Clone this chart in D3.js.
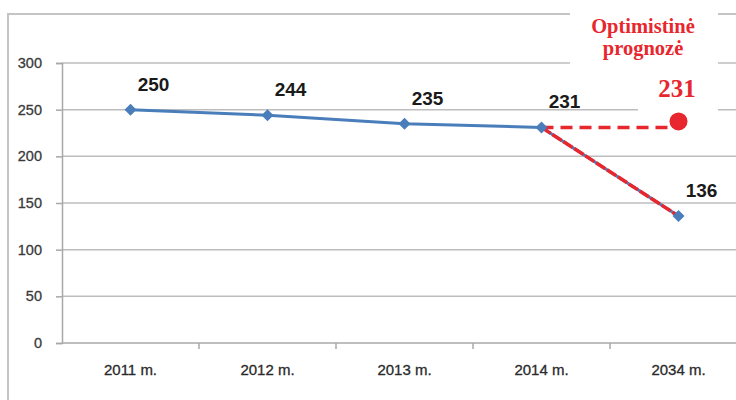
<!DOCTYPE html>
<html>
<head>
<meta charset="utf-8">
<script src="https://cdn.jsdelivr.net/npm/d3@7"></script>
<style>
  html, body { margin: 0; padding: 0; background: #fff; }
  svg { display: block; }
</style>
</head>
<body>
<svg id="chart" width="736" height="400"></svg>
<script>
// Population series (thousands) with the pessimistic 2034 value
const categories = ["2011 m.", "2012 m.", "2013 m.", "2014 m.", "2034 m."];
const values = [250, 244, 235, 231, 136];
// Optimistic forecast: stays at the 2014 level
const optimisticCategories = ["2014 m.", "2034 m."];
const optimisticValues = [231, 231];
const yTicks = [0, 50, 100, 150, 200, 250, 300];
const noteTitle = ["Optimistinė", "prognozė"];

const svg = d3.select("#chart");
const W = 736, H = 400;
const margin = { left: 62, top: 63, bottom: 57 };
const bandW = 137;
const sans = "Liberation Sans, Arial, sans-serif";

const x = d3.scaleBand()
  .domain(categories)
  .range([margin.left, margin.left + bandW * categories.length])
  .paddingInner(0).paddingOuter(0);
const y = d3.scaleLinear().domain([0, 300]).range([H - margin.bottom, margin.top]);
const cx = c => x(c) + x.bandwidth() / 2;

// outer frame (left and top edges)
svg.append("path")
  .attr("d", `M8,${H} V14 H${W}`)
  .attr("fill", "none").attr("stroke", "#c4c4c4").attr("stroke-width", 2);

// horizontal gridlines
svg.append("g").selectAll("line").data(yTicks.filter(t => t > 0)).join("line")
  .attr("x1", margin.left).attr("x2", W)
  .attr("y1", d => y(d)).attr("y2", d => y(d))
  .attr("stroke", "#bdbdbd").attr("stroke-width", 1.5);

// white backing for the forecast note (covers frame and gridlines)
svg.append("path")
  .attr("d", "M570,0 H718 V111 H638 V72 H570 Z")
  .attr("fill", "#fff");

// y axis
const yAxis = svg.append("g")
  .attr("transform", `translate(${margin.left},0)`)
  .call(d3.axisLeft(y).tickValues(yTicks).tickSize(6).tickPadding(14));
yAxis.select(".domain").attr("stroke", "#a8a8a8").attr("stroke-width", 1.5);
yAxis.selectAll(".tick line").attr("stroke", "#a8a8a8").attr("stroke-width", 1.5);
yAxis.selectAll(".tick text")
  .attr("font-family", sans).attr("font-size", 14.5).attr("fill", "#3a3a3a")
  .attr("stroke", "#3a3a3a").attr("stroke-width", 0.3);

// x axis
const xAxis = svg.append("g")
  .attr("transform", `translate(0,${y(0)})`)
  .call(d3.axisBottom(x).tickSize(0).tickPadding(21));
xAxis.select(".domain").attr("d", `M${margin.left},0H${W}`)
  .attr("stroke", "#a8a8a8").attr("stroke-width", 1.5);
xAxis.selectAll(".tick text")
  .attr("font-family", sans).attr("font-size", 15).attr("fill", "#2a2a2a")
  .attr("stroke", "#2a2a2a").attr("stroke-width", 0.3);
// tick marks between categories
svg.append("g").selectAll("line").data(categories.slice(1)).join("line")
  .attr("x1", d => x(d)).attr("x2", d => x(d))
  .attr("y1", y(0)).attr("y2", y(0) + 6)
  .attr("stroke", "#a8a8a8").attr("stroke-width", 1.5);

// main blue series
const line = d3.line().x((d, i) => cx(categories[i])).y(d => y(d));
svg.append("path").datum(values)
  .attr("d", line)
  .attr("fill", "none").attr("stroke", "#4a7ebb").attr("stroke-width", 3);

// pessimistic segment overlaid in red
const segData = values.slice(3);
const segCats = categories.slice(3);
svg.append("path").datum(segData)
  .attr("d", d3.line().x((d, i) => cx(segCats[i])).y(d => y(d)))
  .attr("fill", "none").attr("stroke", "#e8262e").attr("stroke-width", 3.5)
  .attr("stroke-dasharray", "11,2");

// optimistic dashed line
svg.append("path").datum(optimisticValues)
  .attr("d", d3.line().x((d, i) => cx(optimisticCategories[i])).y(d => y(d)))
  .attr("fill", "none").attr("stroke", "#e8262e").attr("stroke-width", 3.5)
  .attr("stroke-dasharray", "12,7");

// diamond markers (squares turned 45°)
const diamond = d3.symbol().type(d3.symbolSquare).size(72);
svg.append("g").selectAll("path").data(values).join("path")
  .attr("transform", (d, i) => `translate(${cx(categories[i])},${y(d)}) rotate(45)`)
  .attr("d", diamond)
  .attr("fill", "#4a7ebb");

// data labels
svg.append("g").selectAll("text").data(values).join("text")
  .attr("x", (d, i) => cx(categories[i]) + 23)
  .attr("y", d => y(d) - 19)
  .attr("text-anchor", "middle")
  .attr("font-family", sans)
  .attr("font-weight", "bold").attr("font-size", 19).attr("fill", "#1a1a1a")
  .text(d => d);

// forecast note text
const note = svg.append("g")
  .attr("font-family", "Liberation Serif, Times New Roman, serif")
  .attr("font-weight", "bold").attr("fill", "#e8262e");
note.selectAll("text.title").data(noteTitle).join("text")
  .attr("class", "title")
  .attr("x", 643).attr("y", (d, i) => 33 + i * 22)
  .attr("text-anchor", "middle").attr("font-size", 20.5)
  .text(d => d);
note.append("text")
  .attr("x", 677).attr("y", 97)
  .attr("text-anchor", "middle").attr("font-size", 25)
  .text(optimisticValues[1]);

// optimistic end point
svg.append("circle")
  .attr("cx", cx(optimisticCategories[1])).attr("cy", y(optimisticValues[1]) - 6)
  .attr("r", 9).attr("fill", "#e8262e");
</script>
</body>
</html>
